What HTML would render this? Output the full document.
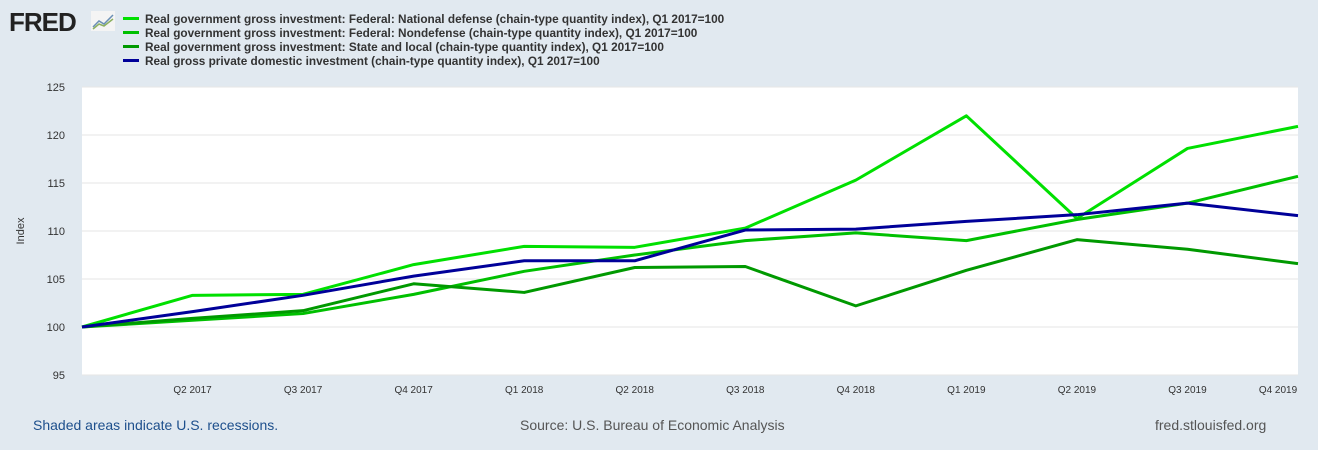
<!DOCTYPE html>
<html><head><meta charset="utf-8"><style>
body{margin:0;background:#e1e9f0;font-family:"Liberation Sans",sans-serif;}
#wrap{position:relative;width:1318px;height:450px;background:#e1e9f0;overflow:hidden}
.leg{position:absolute;left:123px;font-size:11.8px;font-weight:bold;color:#333;line-height:13px}
.sw{display:inline-block;width:16px;height:3px;vertical-align:middle;margin-right:6px;position:relative;top:-1px}
</style></head><body>
<div id="wrap">
<div style="position:absolute;left:9px;top:7px;font-size:26px;font-weight:900;color:#222;letter-spacing:-1px">FRED</div>
<svg style="position:absolute;left:91px;top:11px" width="24" height="20"><rect width="24" height="20" fill="#f4f4f4"/><polyline points="2,16 8,10 13,13 22,4" fill="none" stroke="#6a8fb5" stroke-width="1.5"/><polyline points="2,18 8,13 13,15 22,8" fill="none" stroke="#8cb060" stroke-width="1.5"/></svg>
<div class="leg" style="top:13px"><span class="sw" style="background:#00e000"></span>Real government gross investment: Federal: National defense (chain-type quantity index), Q1 2017=100</div>
<div class="leg" style="top:27px"><span class="sw" style="background:#00c000"></span>Real government gross investment: Federal: Nondefense (chain-type quantity index), Q1 2017=100</div>
<div class="leg" style="top:41px"><span class="sw" style="background:#009900"></span>Real government gross investment: State and local (chain-type quantity index), Q1 2017=100</div>
<div class="leg" style="top:55px"><span class="sw" style="background:#000099"></span>Real gross private domestic investment (chain-type quantity index), Q1 2017=100</div>
<svg id="chart" width="1318" height="450" style="position:absolute;left:0;top:0"></svg>
<div style="position:absolute;left:33px;top:417px;font-size:14px;color:#1d4f8c">Shaded areas indicate U.S. recessions.</div>
<div style="position:absolute;left:520px;top:417px;font-size:14px;color:#555">Source: U.S. Bureau of Economic Analysis</div>
<div style="position:absolute;left:1155px;top:417px;font-size:14px;color:#555">fred.stlouisfed.org</div>
</div>
<script>
const categories=["Q1 2017","Q2 2017","Q3 2017","Q4 2017","Q1 2018","Q2 2018","Q3 2018","Q4 2018","Q1 2019","Q2 2019","Q3 2019","Q4 2019"];
const defense=[100,103.3,103.4,106.5,108.4,108.3,110.3,115.3,122,111.3,118.6,120.9];
const nondefense=[100,100.7,101.4,103.4,105.8,107.5,109,109.8,109,111.2,112.9,115.7];
const stateLocal=[100,100.9,101.7,104.5,103.6,106.2,106.3,102.2,105.9,109.1,108.1,106.6];
const privateInv=[100,101.6,103.3,105.3,106.9,106.9,110.1,110.2,111,111.7,112.9,111.6];
const yTicks=[95,100,105,110,115,120,125];
const NS="http://www.w3.org/2000/svg";
const svg=document.getElementById('chart');
const L=82,R=1298,T=87,B=375,ymin=95,ymax=125;
const x=i=>L+i*(R-L)/(categories.length-1);
const y=v=>B-(v-ymin)/(ymax-ymin)*(B-T);
function mk(t,a){const e=document.createElementNS(NS,t);for(const k in a)e.setAttribute(k,a[k]);svg.appendChild(e);return e;}
const bg=mk('rect',{x:L,y:T,width:R-L,height:B-T,fill:'#fff'});


yTicks.forEach(v=>{
 const g=mk('line',{x1:L,x2:R,y1:y(v),y2:y(v),stroke:'#e6e6e6'});
 
 
 const t=mk('text',{x:L-17,y:y(v)+4,'font-size':11,fill:'#333','text-anchor':'end'});
 t.textContent=v;
 
 
});
categories.forEach((c,i)=>{
 if(i===0)return;
 const tx=i===categories.length-1?x(i)-20:x(i);
 const t=mk('text',{x:tx,y:393,'font-size':10,fill:'#333','text-anchor':'middle'});
 t.textContent=c;
 
 
});
const yt=mk('text',{x:24,y:231,'font-size':11,fill:'#333','text-anchor':'middle',transform:'rotate(-90 24 231)'});
yt.textContent='Index';


[[defense,'#00e000','line-national-defense'],[nondefense,'#00c000','line-nondefense'],[stateLocal,'#009900','line-state-local'],[privateInv,'#000099','line-private-investment']].forEach(([d,c,n])=>{
 const p=mk('polyline',{points:d.map((v,i)=>x(i)+','+y(v)).join(' '),fill:'none',stroke:c,'stroke-width':3,'stroke-linejoin':'round'});
 
 
});
</script>
</body></html>
